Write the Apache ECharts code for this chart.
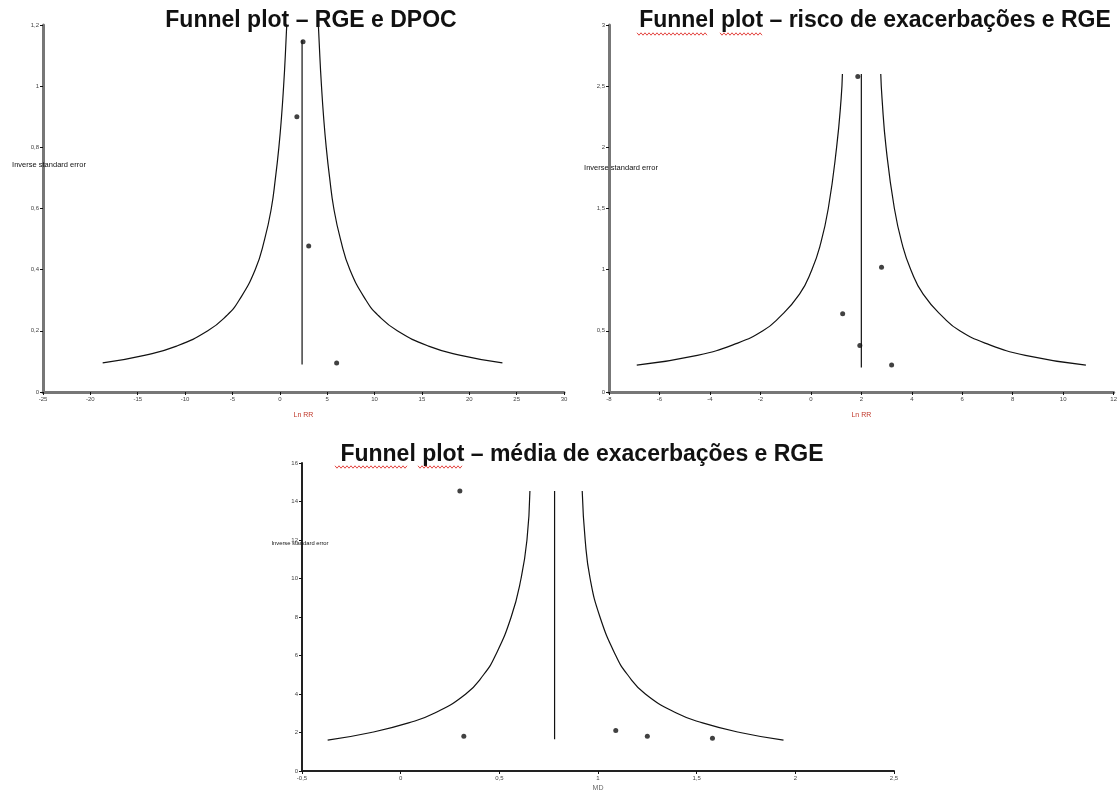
<!DOCTYPE html>
<html>
<head>
<meta charset="utf-8">
<script src="https://cdn.jsdelivr.net/npm/echarts@6/dist/echarts.min.js"></script>
<style>
  html, body { margin: 0; padding: 0; background: #ffffff; }
  #chart { width: 1120px; height: 793px; }
</style>
</head>
<body>
<div id="chart"></div>
<script>
// ---- Funnel 1: RGE e DPOC (Ln RR vs inverse standard error) ----
const f1Studies = [[2.45, 1.145], [1.8, 0.90], [3.05, 0.477], [6.0, 0.095]];
const f1Pooled = [[2.35, 0.09], [2.35, 1.15]];
const f1Left = [[-18.7, 0.095], [-14.3, 0.12], [-10.9, 0.15], [-7.6, 0.2], [-5.6, 0.25], [-4.3, 0.3],
  [-2.6, 0.4], [-1.6, 0.5], [-0.9, 0.6], [-0.46, 0.7], [-0.1, 0.8], [0.18, 0.9], [0.4, 1.0], [0.58, 1.1], [0.73, 1.2]];
const f1Right = [[23.5, 0.095], [19.1, 0.12], [15.7, 0.15], [12.4, 0.2], [10.4, 0.25], [9.1, 0.3],
  [7.4, 0.4], [6.4, 0.5], [5.7, 0.6], [5.26, 0.7], [4.9, 0.8], [4.62, 0.9], [4.4, 1.0], [4.22, 1.1], [4.07, 1.2]];

// ---- Funnel 2: risco de exacerbações e RGE ----
const f2Studies = [[1.86, 2.58], [1.26, 0.64], [1.94, 0.38], [2.8, 1.02], [3.2, 0.22]];
const f2Pooled = [[2.0, 0.2], [2.0, 2.6]];
const f2Left = [[-6.9, 0.22], [-4.5, 0.3], [-2.9, 0.4], [-1.9, 0.5], [-1.3, 0.6], [-0.45, 0.8],
  [0.04, 1.0], [0.37, 1.2], [0.69, 1.5], [1.02, 2.0], [1.2, 2.4], [1.25, 2.6]];
const f2Right = [[10.9, 0.22], [8.5, 0.3], [6.9, 0.4], [5.9, 0.5], [5.3, 0.6], [4.45, 0.8],
  [3.96, 1.0], [3.63, 1.2], [3.31, 1.5], [2.98, 2.0], [2.82, 2.4], [2.77, 2.6]];

// ---- Funnel 3: média de exacerbações e RGE ----
const f3Studies = [[0.30, 14.55], [0.32, 1.8], [1.09, 2.1], [1.25, 1.8], [1.58, 1.7]];
const f3Pooled = [[0.78, 1.65], [0.78, 14.55]];
const f3Left = [[-0.37, 1.6], [-0.15, 2.0], [0.04, 2.5], [0.17, 3.0], [0.33, 4.0], [0.42, 5.0],
  [0.48, 6.0], [0.56, 8.0], [0.61, 10.0], [0.64, 12.0], [0.655, 14.55]];
const f3Right = [[1.94, 1.6], [1.72, 2.0], [1.53, 2.5], [1.40, 3.0], [1.24, 4.0], [1.15, 5.0],
  [1.09, 6.0], [1.01, 8.0], [0.96, 10.0], [0.935, 12.0], [0.92, 14.55]];

// axis ranges and tick steps
const xRanges = [[-25, 30, 5], [-8, 12, 2], [-0.5, 2.5, 0.5]];
const yRanges = [[0, 1.2, 0.2], [0, 3, 0.5], [0, 16, 2]];
const titles = ['Funnel plot – RGE e DPOC', 'Funnel plot – risco de exacerbações e RGE', 'Funnel plot – média de exacerbações e RGE'];
const xNames = ['Ln RR', 'Ln RR', 'MD'];
const yName = 'Inverse standard error';

const grids = [
  { left: 43, top: 25, width: 521, height: 367 },
  { left: 609, top: 25, width: 506, height: 367 },
  { left: 302, top: 463, width: 592, height: 312 }
];

const comma = v => String(+v.toFixed(2)).replace('.', ',');

function axisCommon(lineColor, lineWidth) {
  return {
    axisLine: { show: true, onZero: false, lineStyle: { color: lineColor, width: lineWidth } },
    axisTick: { show: true, length: 3, lineStyle: { color: '#111', width: 1 } },
    axisLabel: { fontSize: 6, color: '#444', margin: 4, formatter: comma, fontFamily: 'Liberation Sans' },
    splitLine: { show: false }
  };
}

const xAxis = xRanges.map((r, i) => Object.assign(axisCommon(i === 2 ? '#222' : '#777', i === 2 ? 2 : 3), {
  type: 'value', gridIndex: i, min: r[0], max: r[1], interval: r[2],
  name: xNames[i], nameLocation: 'middle', nameGap: i === 2 ? 14 : 20,
  nameTextStyle: { fontSize: 7, color: i === 2 ? '#666' : '#c0392b', fontFamily: 'Liberation Sans' }
}));
const yAxis = yRanges.map((r, i) => Object.assign(axisCommon(i === 2 ? '#222' : '#777', i === 2 ? 2 : 3), {
  type: 'value', gridIndex: i, min: r[0], max: r[1], interval: r[2]
}));

const sets = [
  [f1Studies, f1Pooled, f1Left, f1Right],
  [f2Studies, f2Pooled, f2Left, f2Right],
  [f3Studies, f3Pooled, f3Left, f3Right]
];
const series = [];
sets.forEach((s, i) => {
  const line = data => ({
    type: 'line', xAxisIndex: i, yAxisIndex: i, data, showSymbol: false, smooth: true,
    lineStyle: { color: '#111', width: 1.2 }, silent: true, z: 2
  });
  series.push(line(s[2]), line(s[3]), Object.assign(line(s[1]), { smooth: false }));
  series.push({
    type: 'scatter', xAxisIndex: i, yAxisIndex: i, data: s[0], symbol: 'circle', symbolSize: 5,
    itemStyle: { color: '#111' }, z: 3
  });
});

// title positions (centre x, top y) and y-axis caption positions
const titlePos = [[311, 9], [875, 9], [582, 443]];
const yNamePos = [[49, 165, 7.5], [621, 168, 7.5], [300, 543, 5.8]];

function squiggle(x0, x1, y) {
  const pts = [];
  for (let x = x0, k = 0; x <= x1; x += 2, k++) pts.push([x, y + (k % 2 ? 1.2 : -1.2)]);
  return { type: 'polyline', shape: { points: pts }, style: { stroke: '#e0302a', lineWidth: 0.9, fill: null } };
}

const graphic = [];
titles.forEach((t, i) => graphic.push({
  type: 'text', x: titlePos[i][0], y: titlePos[i][1],
  style: { text: t, font: 'bold 23px "Liberation Sans", Arial, sans-serif', fill: '#111', textAlign: 'center', textVerticalAlign: 'top' }
}));
yNamePos.forEach(p => graphic.push({
  type: 'text', x: p[0], y: p[1], z: 10,
  style: { text: yName, font: p[2] + 'px "Liberation Sans", Arial, sans-serif', fill: '#111', textAlign: 'center', textVerticalAlign: 'middle' }
}));
graphic.push(squiggle(637, 708, 34), squiggle(720, 763, 34), squiggle(335, 407, 467), squiggle(418, 462, 467));

const chart = echarts.init(document.getElementById('chart'), null, { renderer: 'canvas' });
chart.setOption({
  backgroundColor: '#ffffff',
  animation: false,
  grid: grids,
  xAxis, yAxis, series, graphic
});
</script>
</body>
</html>
